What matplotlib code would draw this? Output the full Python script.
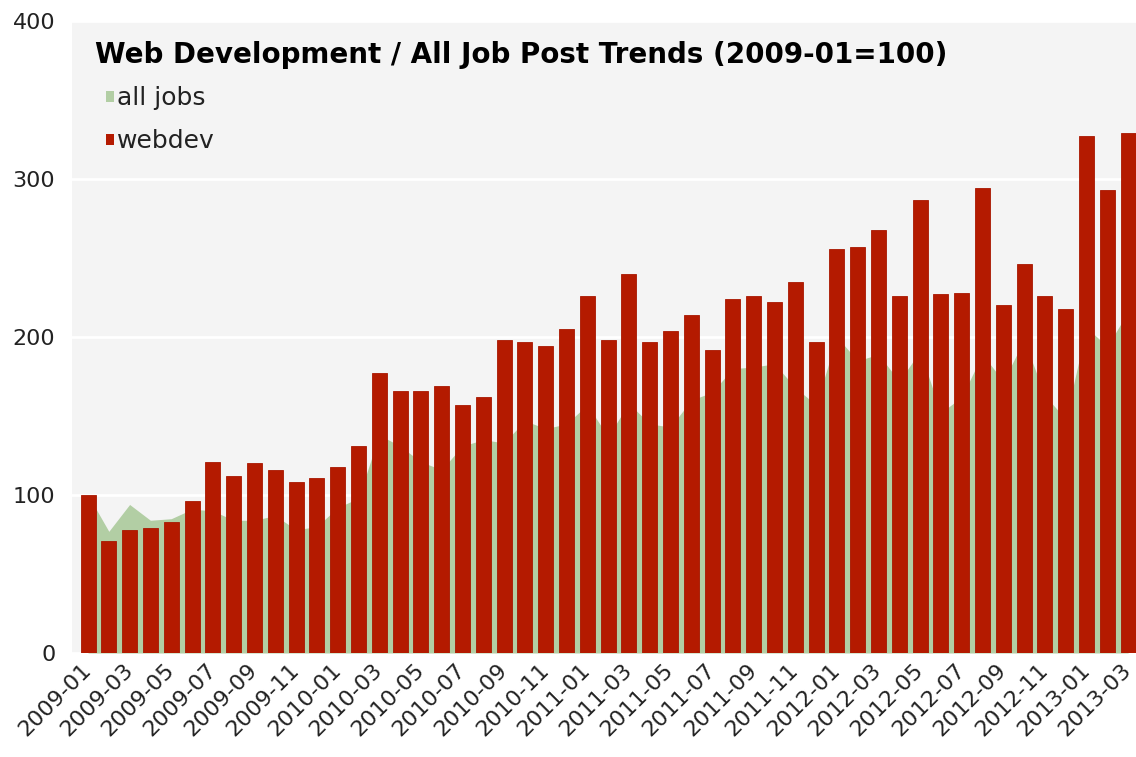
import matplotlib
matplotlib.use("Agg")
import matplotlib.pyplot as plt
from matplotlib.patches import Patch
import numpy as np

# ==================== 数据 ====================

months = [f"{y}-{m:02d}" for y in range(2009, 2014) for m in range(1, 13)][:51]

webdev = [100, 71, 78, 79, 83, 96, 121, 112, 120, 116,
          108, 111, 118, 131, 177, 166, 166, 169, 157, 162,
          198, 197, 194, 205, 226, 198, 240, 197, 204, 214,
          192, 224, 226, 222, 235, 197, 256, 257, 268, 226,
          287, 227, 228, 294, 220, 246, 226, 218, 327, 293,
          329]

all_jobs = [100, 77, 94, 84, 85, 91, 90, 84, 84, 87,
            78, 80, 92, 98, 138, 131, 121, 116, 131, 135,
            133, 147, 142, 145, 157, 137, 158, 145, 143, 160,
            165, 180, 181, 183, 168, 157, 200, 185, 189, 172,
            191, 152, 162, 189, 172, 198, 163, 148, 206, 194,
            216]

y_ticks = [0, 100, 200, 300, 400]

TITLE = "Web Development / All Job Post Trends (2009-01=100)"
BAR_COLOR = "#b41a00"
AREA_COLOR = "#b2cea4"
BG_COLOR = "#f4f4f4"

# ==================== 绘图 ====================

W, H = 1136, 757
fig = plt.figure(figsize=(W / 100, H / 100), dpi=100)
ax = fig.add_axes([72 / W, (H - 653) / H, (W - 72) / W, (653 - 21) / H])
ax.set_facecolor(BG_COLOR)

x = np.arange(len(months))
ax.fill_between(x, all_jobs, 0, color=AREA_COLOR, linewidth=0, zorder=2)
ax.bar(x, webdev, width=0.72, color=BAR_COLOR, edgecolor="#a81600",
       linewidth=0.6, zorder=3)

ax.set_xlim(-0.77, 50.38)
ax.set_ylim(0, 400)
ax.set_yticks(y_ticks)
ax.set_yticklabels([str(v) for v in y_ticks])
ax.set_xticks(x[::2])
ax.set_xticklabels(months[::2], rotation=45, ha="right", va="center",
                   rotation_mode="anchor")

ax.yaxis.grid(True, color="white", linewidth=2, zorder=1)
ax.set_axisbelow(True)
for s in ax.spines.values():
    s.set_visible(False)
ax.tick_params(axis="both", length=0, labelsize=16, colors="#222222")
ax.tick_params(axis="y", pad=12)
ax.tick_params(axis="x", pad=10)

fig.text(95 / W, 1 - 55 / H, TITLE, fontsize=20, fontweight="bold",
         color="black", ha="left", va="center")

handles = [Patch(facecolor=AREA_COLOR, edgecolor="none"),
           Patch(facecolor=BAR_COLOR, edgecolor="none")]
fig.legend(handles, ["all jobs", "webdev"], loc="upper left",
           bbox_to_anchor=(106 / W, 1 - 86 / H), frameon=False,
           fontsize=18, handlelength=0.3, handleheight=0.3,
           handletextpad=0.15, labelspacing=0.76, borderaxespad=0,
           borderpad=0, labelcolor="#222222")

fig.savefig("out.png", dpi=100)
